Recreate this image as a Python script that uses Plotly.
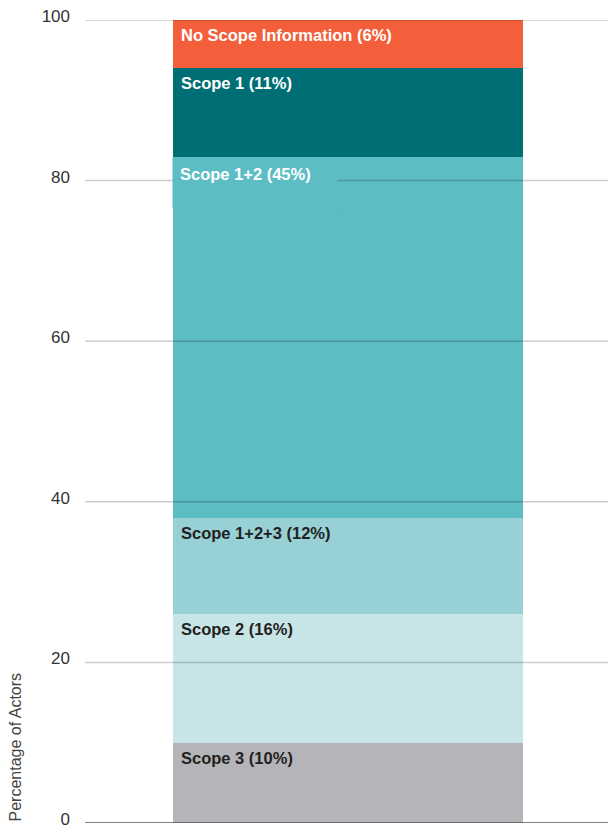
import plotly.graph_objects as go

categories = ["Scope 3", "Scope 2", "Scope 1+2+3", "Scope 1+2", "Scope 1", "No Scope Information"]
values = [10, 16, 12, 45, 11, 6]
colors = ["#b4b5b8", "#c7e5e7", "#97d0d5", "#5cbdc4", "#006e75", "#f25f3a"]
text_colors = ["#231f20", "#231f20", "#231f20", "#ffffff", "#ffffff", "#ffffff"]
tick_vals = [0, 20, 40, 60, 80, 100]
y_title = "Percentage of Actors"

FONT = "Liberation Sans, Arial, sans-serif"

fig = go.Figure()
for cat, val, col in zip(categories, values, colors):
    fig.add_trace(go.Bar(x=[0], y=[val], name=cat, marker=dict(color=col, line=dict(width=0)),
                         width=1, hoverinfo="skip", showlegend=False))

# gridlines drawn above the bars
for t in tick_vals:
    fig.add_shape(type="line", xref="paper", x0=0, x1=1, yref="y", y0=t, y1=t, layer="above",
                  line=dict(color="#555555" if t == 0 else "rgba(0,0,0,0.2)", width=1.5))

# labels at top-left of each segment
cum = 0
for cat, val, col, tc in zip(categories, values, colors, text_colors):
    top = cum + val
    cum = top
    label = f"{cat} ({val}%)"
    if val >= 40:
        kw = dict(bgcolor=col, width=150, height=36, align="left", valign="top", borderpad=7,
                  xshift=-1, yshift=0)
    else:
        kw = dict(xshift=6, yshift=-4)
    fig.add_annotation(x=-0.5, y=top, xref="x", yref="y", xanchor="left", yanchor="top",
                       text=f"<b>{label}</b>", showarrow=False,
                       font=dict(family=FONT, size=16.5, color=tc), **kw)

fig.add_annotation(xref="paper", yref="paper", x=-0.13, y=0, xanchor="center", yanchor="bottom",
                   text=y_title, textangle=-90, showarrow=False,
                   font=dict(family=FONT, size=16, color="#444444"))

fig.update_layout(
    barmode="stack",
    width=608, height=820,
    margin=dict(l=77, r=0, t=12, b=5, autoexpand=False),
    plot_bgcolor="white", paper_bgcolor="white",
    xaxis=dict(range=[-0.7514, 0.7657], showticklabels=False, showgrid=False, zeroline=False,
               showline=False, fixedrange=True, automargin=False),
    yaxis=dict(range=[0, 100], tickvals=tick_vals, showgrid=False, zeroline=False, showline=False,
               ticks="", ticklabelstandoff=14, ticklabelshift=-4, ticklabeloverflow="allow",
               automargin=False,
               tickfont=dict(family=FONT, size=17, color="#333333")),
)

fig.write_html("out.html")
